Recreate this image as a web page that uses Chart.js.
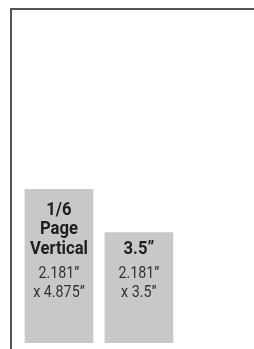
<!DOCTYPE html>
<html>
<head>
<meta charset="utf-8">
<script src="https://cdn.jsdelivr.net/npm/chart.js@4/dist/chart.umd.min.js"></script>
<style>
  html, body { margin: 0; padding: 0; background: #fff; }
  #wrap { width: 254px; height: 349px; }
</style>
</head>
<body>
<div id="wrap"><canvas id="chart"></canvas></div>
<script>
// ad sizes, heights in inches
const adNames = ["1/6 Page Vertical", "3.5\""];
const adHeights = [4.875, 3.5];
const titleLines = [["1/6", "Page", "Vertical"], ["3.5\u201D"]];
const sizeLines = [["2.181\u201D", "x 4.875\u201D"], ["2.181\u201D", "x 3.5\u201D"]];

const FONT = "Roboto, 'DejaVu Sans Condensed', sans-serif";

function drawSqueezed(ctx, text, x, y, sx) {
  ctx.save();
  ctx.translate(x, y);
  ctx.scale(sx, 1);
  ctx.fillText(text, 0, 0);
  ctx.restore();
}

const labelPlugin = {
  id: "adLabels",
  afterDatasetsDraw(chart) {
    const ctx = chart.ctx;
    const meta = chart.getDatasetMeta(0);
    const base = chart.scales.y.getPixelForValue(0);
    ctx.save();
    ctx.textAlign = "center";
    ctx.textBaseline = "alphabetic";
    meta.data.forEach((bar, i) => {
      const t = titleLines[i];
      ctx.font = "bold 18.5px " + FONT;
      ctx.fillStyle = "#1e1e1e";
      t.forEach((line, j) => {
        const y = base - 89 - (t.length - 1 - j) * 19.5;
        drawSqueezed(ctx, line, bar.x, y, 0.9);
      });
      ctx.font = "17px " + FONT;
      ctx.fillStyle = "#333";
      sizeLines[i].forEach((line, j) => {
        drawSqueezed(ctx, line, bar.x, base - 65 + j * 19, 0.84);
      });
    });
    ctx.restore();
  },
};

function createChart() {
  const ctx = document.getElementById("chart");
  new Chart(ctx, {
    type: "bar",
    data: {
      datasets: [
        {
          label: "Height (in)",
          data: adHeights.map((h, i) => ({ x: i, y: h })),
          backgroundColor: "#c8c8ca",
          borderWidth: 0,
          barThickness: 68,
        },
      ],
    },
    options: {
      responsive: true,
      maintainAspectRatio: false,
      animation: false,
      layout: { padding: { left: 11, top: 9, right: 0, bottom: 0 } },
      plugins: {
        legend: { display: false },
        tooltip: { enabled: false },
      },
      scales: {
        x: {
          type: "linear",
          position: "top",
          offset: false,
          min: -0.6,
          max: 2.44,
          ticks: { display: false },
          grid: { display: false, drawTicks: false },
          border: { display: true, color: "#555", width: 2 },
        },
        y: {
          min: -0.2,
          max: 10.6,
          ticks: { display: false },
          grid: { display: false, drawTicks: false },
          border: { display: true, color: "#555", width: 2 },
        },
      },
    },
    plugins: [labelPlugin],
  });
}

window.addEventListener("DOMContentLoaded", createChart);
</script>
</body>
</html>
